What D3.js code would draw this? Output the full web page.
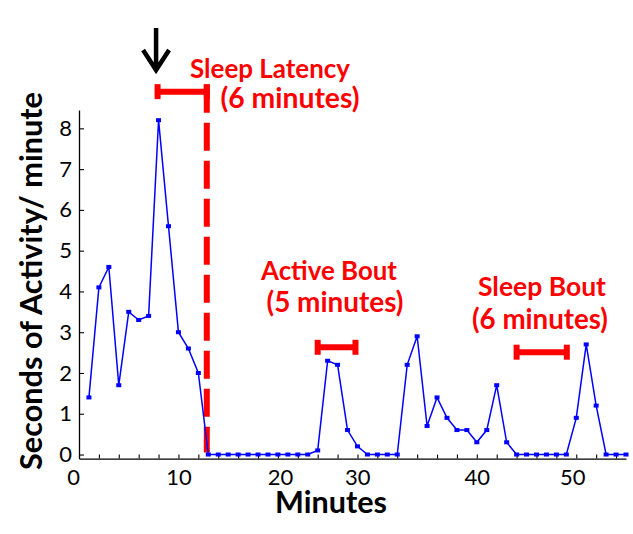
<!DOCTYPE html>
<html>
<head>
<meta charset="utf-8">
<script src="https://cdn.jsdelivr.net/npm/d3@7"></script>
<style>
  html, body { margin: 0; padding: 0; background: #fff; }
  svg { display: block; }
  text { font-family: Lato, "Open Sans", sans-serif; }
</style>
</head>
<body>
<svg id="chart" width="633" height="534"></svg>
<script>
// ---- data ----
const minutes = [1,2,3,4,5,6,7,8,9,10,11,12,13,14,15,16,17,18,19,20,21,22,23,24,25,26,27,28,29,30,31,32,33,34,35,36,37,38,39,40,41,42,43,44,45,46,47,48,49,50,51,52,53,54,55];
const activity = [1.4,4.1,4.6,1.7,3.5,3.3,3.4,8.2,5.6,3.0,2.6,2.0,0,0,0,0,0,0,0,0,0,0,0,0.1,2.3,2.2,0.6,0.2,0,0,0,0,2.2,2.9,0.7,1.4,0.9,0.6,0.6,0.3,0.6,1.7,0.3,0,0,0,0,0,0,0.9,2.7,1.2,0,0,0];
const xTickValues = [0,2,4,6,8,10,12,14,16,18,20,22,24,26,28,30,32,34,36,38,40,42,44,46,48,50,52,54];
const xTickLabels = [0,10,20,30,40,50];
const yTickValues = [0,1,2,3,4,5,6,7,8];
const xTitle = "Minutes";
const yTitle = "Seconds of Activity/ minute";
// annotation brackets: [start minute, end minute, level (activity units)]
const bracketNames = ["Sleep Latency", "Active Bout", "Sleep Bout"];
const bracketStart = [7.9, 24.0, 44.0];
const bracketEnd = [12.85, 27.8, 49.05];
const bracketLevel = [8.9, 2.63, 2.51];
const bracketLine1 = ["Sleep Latency", "Active Bout", "Sleep Bout"];
const bracketLine2 = ["(6 minutes)", "(5 minutes)", "(6 minutes)"];
const arrowMinute = 7.75;

// ---- layout ----
const svg = d3.select("#chart");
const x = d3.scaleLinear().domain([0, 55]).range([79, 626]);
const y = d3.scaleLinear().domain([-0.1, 8.45]).range([458.6, 110]);

function fitText(sel, target, size) {
  sel.style("font-size", size + "px");
  const w = sel.node().getComputedTextLength();
  if (w > 0) sel.style("font-size", (size * target / w).toFixed(2) + "px");
  return sel;
}

// ---- axes ----
const labelShift = {0: -6, 10: 0, 20: 2, 30: -20, 40: 0, 50: -4};
const xAxis = d3.axisBottom(x)
  .tickValues(xTickValues)
  .tickFormat(d => xTickLabels.includes(d) ? d : "")
  .tickSizeInner(-4).tickSizeOuter(0).tickPadding(11);
const gx = svg.append("g").attr("transform", `translate(0,${y(-0.1)})`).call(xAxis);
gx.selectAll("text").style("font-size", "22px").attr("fill", "#000")
  .attr("dx", d => labelShift[d] || 0);

const yAxis = d3.axisLeft(y)
  .tickValues(yTickValues)
  .tickSizeInner(-5).tickSizeOuter(0).tickPadding(7);
const gy = svg.append("g").attr("transform", `translate(${x(0)},0)`).call(yAxis);
gy.selectAll("text").style("font-size", "22px").attr("fill", "#000");

svg.selectAll(".domain").attr("stroke", "#000").attr("stroke-width", 1.3);
svg.selectAll(".tick line").attr("stroke", "#000").attr("stroke-width", 1.1);

// axis titles
fitText(svg.append("text")
  .attr("x", 331).attr("y", 513)
  .attr("text-anchor", "middle").attr("font-weight", "bold").attr("fill", "#000")
  .text(xTitle), 112, 27);

fitText(svg.append("text")
  .attr("transform", "translate(42,281) rotate(-90)")
  .attr("text-anchor", "middle").attr("font-weight", "bold").attr("fill", "#000")
  .text(yTitle), 378, 27);

// ---- sleep latency dashed line ----
svg.append("line")
  .attr("x1", x(bracketEnd[0])).attr("x2", x(bracketEnd[0]))
  .attr("y1", y(bracketLevel[0]) - 7).attr("y2", y(0) - 2)
  .attr("stroke", "#ff0000").attr("stroke-width", 6)
  .attr("stroke-dasharray", "28,10");

// ---- data line ----
const pts = minutes.map((m, i) => [m, activity[i]]);
svg.append("path")
  .datum(pts)
  .attr("fill", "none").attr("stroke", "#0000ff").attr("stroke-width", 1.5)
  .attr("d", d3.line().x(d => x(d[0])).y(d => y(d[1])));
svg.selectAll("rect.pt").data(pts).enter().append("rect")
  .attr("class", "pt")
  .attr("x", d => x(d[0]) - 2.5).attr("y", d => y(d[1]) - 2)
  .attr("width", 5).attr("height", 4)
  .attr("fill", "#0000ff");

// ---- brackets ----
bracketNames.forEach((n, i) => {
  const x1 = x(bracketStart[i]), x2 = x(bracketEnd[i]), yy = y(bracketLevel[i]);
  const g = svg.append("g").attr("stroke", "#ff0000").attr("stroke-width", 6);
  g.append("line").attr("x1", x1).attr("x2", x2).attr("y1", yy).attr("y2", yy);
  g.append("line").attr("x1", x1).attr("x2", x1).attr("y1", yy - 7.5).attr("y2", yy + 7.5);
  g.append("line").attr("x1", x2).attr("x2", x2).attr("y1", yy - 7.5).attr("y2", yy + 7.5);
});

// ---- annotation texts ----
const textPos = [
  {cx1: 270, b1: 78, w1: 160, cx2: 290, b2: 108, w2: 139},
  {cx1: 329, b1: 280, w1: 136, cx2: 335, b2: 312, w2: 137},
  {cx1: 542, b1: 296, w1: 128, cx2: 540, b2: 329, w2: 136}
];
textPos.forEach((p, i) => {
  fitText(svg.append("text").attr("x", p.cx1).attr("y", p.b1)
    .attr("text-anchor", "middle").attr("font-weight", "bold").attr("fill", "#ff0000")
    .text(bracketLine1[i]), p.w1, 25);
  fitText(svg.append("text").attr("x", p.cx2).attr("y", p.b2)
    .attr("text-anchor", "middle").attr("font-weight", "bold").attr("fill", "#ff0000")
    .text(bracketLine2[i]), p.w2, 25);
});

// ---- arrow ----
const ax = x(arrowMinute);
svg.append("path")
  .attr("d", `M${ax},28 L${ax},69 M${ax - 13},50 L${ax},70 L${ax + 13},50`)
  .attr("fill", "none").attr("stroke", "#000").attr("stroke-width", 4.5)
  .attr("stroke-linejoin", "miter");
</script>
</body>
</html>
